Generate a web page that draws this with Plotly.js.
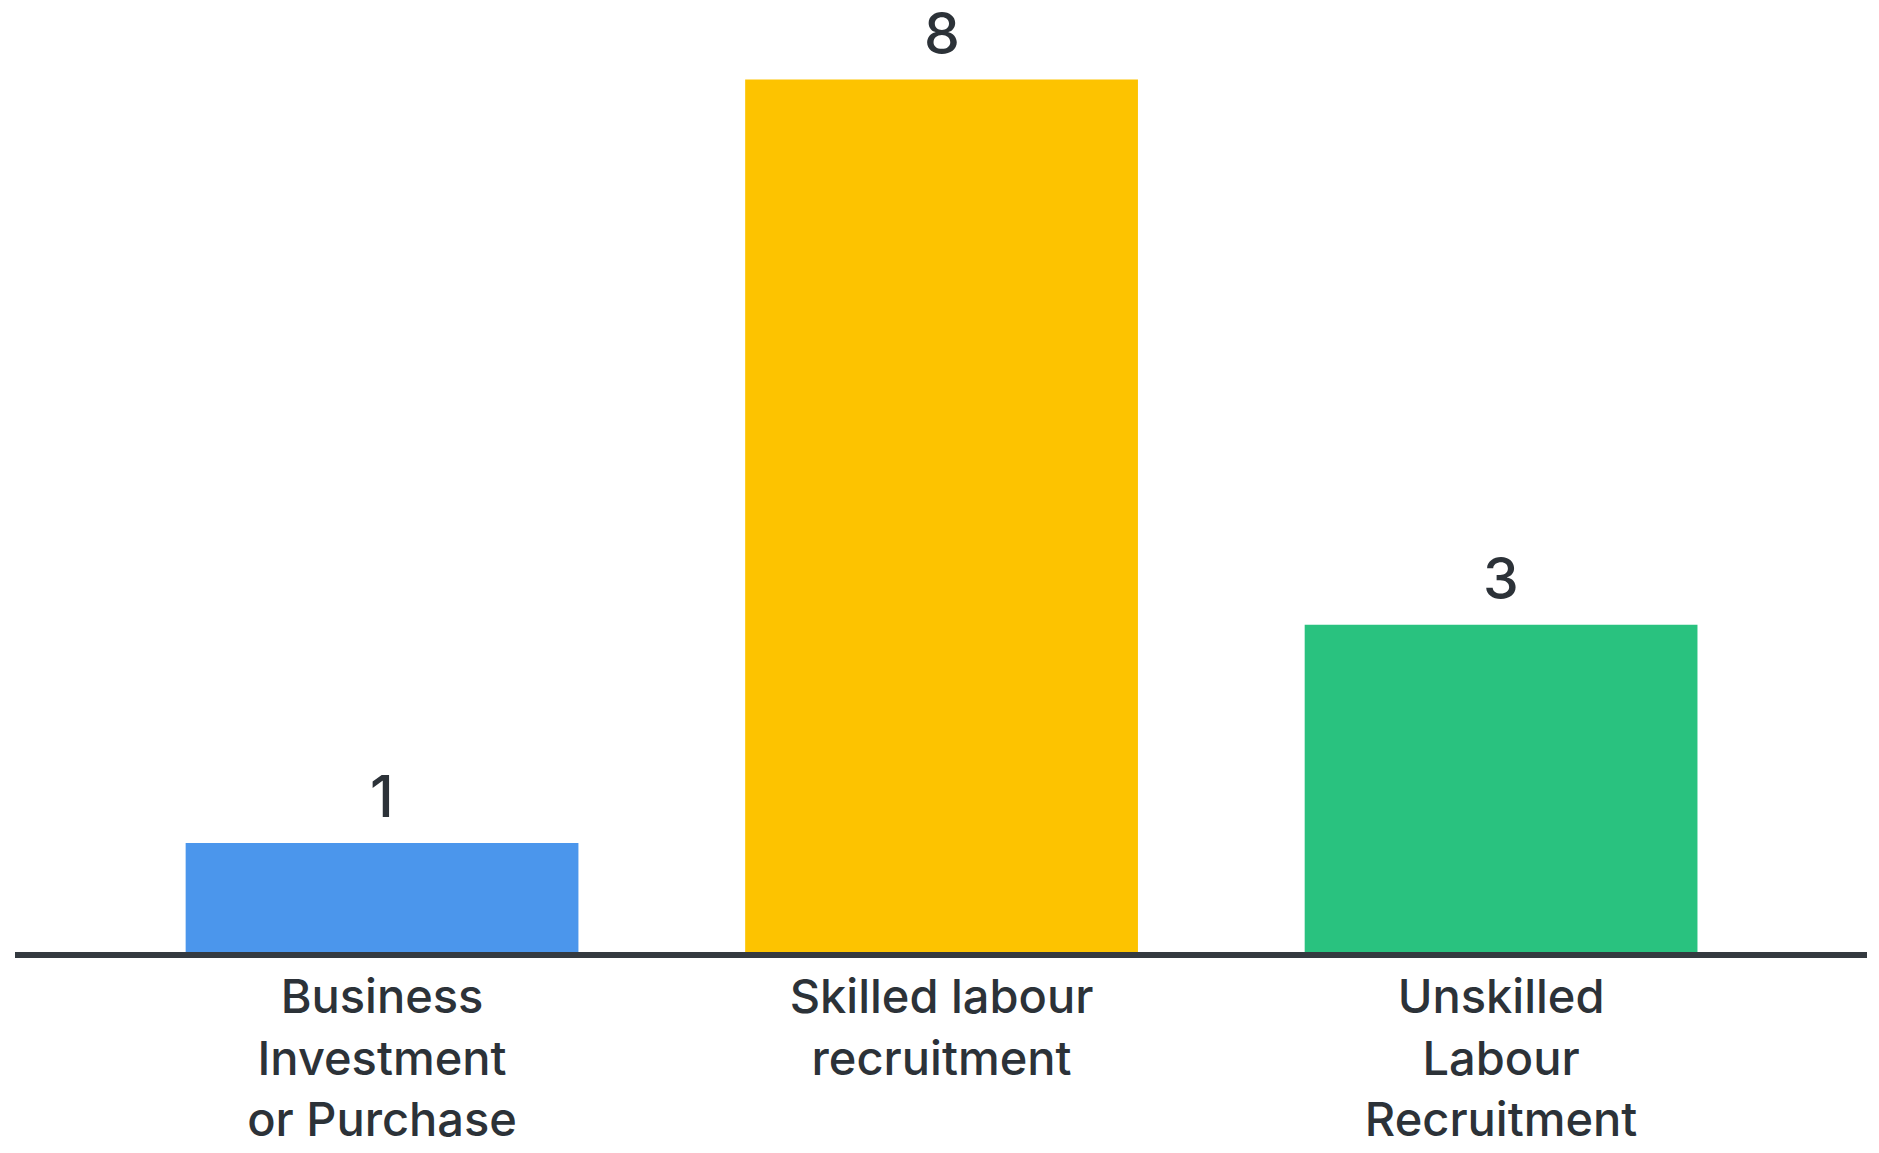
<!DOCTYPE html>
<html>
<head>
<meta charset="utf-8">
<script src="https://cdn.plot.ly/plotly-3.0.1.min.js"></script>
<style>
  html, body { margin: 0; padding: 0; background: #ffffff; }
  #chart { width: 1879px; height: 1153px; }
</style>
</head>
<body>
<div id="chart"></div>
<script>
const categories = ["Business<br>Investment<br>or Purchase", "Skilled labour<br>recruitment", "Unskilled<br>Labour<br>Recruitment"];
const values = [1, 8, 3];
const barColors = ["#4B96EC", "#FDC300", "#29C27F"];
const valueLabels = ["1", "8", "3"];

const textColor = "#2C3238";
const fontFamily = "Inter, 'Noto Sans', 'DejaVu Sans', sans-serif";

const trace = {
  type: "bar",
  x: categories,
  y: values,
  marker: { color: barColors, line: { width: 0 } },
  width: 0.702,
  hoverinfo: "skip"
};

const annotations = categories.map((c, i) => ({
  x: c,
  y: values[i],
  xref: "x",
  yref: "y",
  text: valueLabels[i],
  showarrow: false,
  yanchor: "bottom",
  xanchor: "center",
  yshift: 10,
  font: { family: fontFamily, size: 57, color: textColor, weight: 500 }
}));

const layout = {
  width: 1879,
  height: 1153,
  margin: { l: 15, r: 12, t: 0, b: 201, pad: 0 },
  paper_bgcolor: "#ffffff",
  plot_bgcolor: "#ffffff",
  showlegend: false,
  xaxis: {
    type: "category",
    range: [-0.656, 2.654],
    showline: true,
    linecolor: "#343A40",
    linewidth: 6,
    showgrid: false,
    zeroline: false,
    ticks: "",
    ticklen: 0,
    ticklabelstandoff: -1,
    tickfont: { family: fontFamily, size: 47, color: textColor, weight: 500 },
    fixedrange: true
  },
  yaxis: {
    range: [0, 8.729],
    visible: false,
    showgrid: false,
    zeroline: false,
    fixedrange: true
  },
  annotations: annotations
};

Plotly.newPlot("chart", [trace], layout, { displayModeBar: false, staticPlot: true });
</script>
</body>
</html>
